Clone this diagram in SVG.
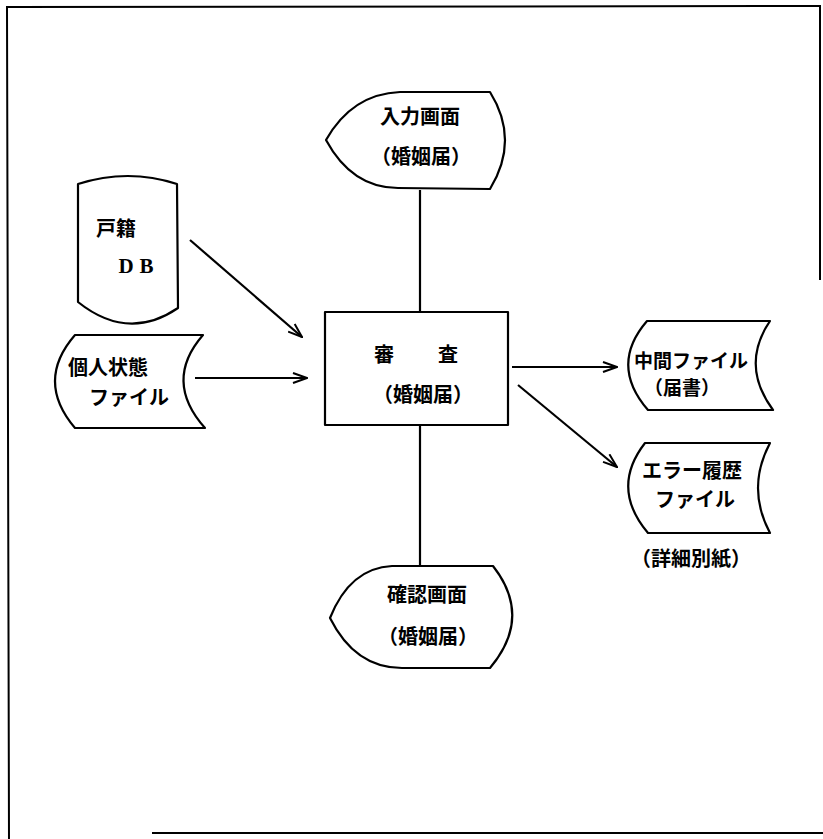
<svg xmlns="http://www.w3.org/2000/svg" width="823" height="839" viewBox="0 0 823 839">
<style>
.s{fill:#fff;stroke:#000;stroke-width:2.2;stroke-linejoin:round}
.c{stroke:#000;stroke-width:2.2;fill:none}
.b{stroke:#000;stroke-width:2;fill:none}
text{font-family:"Noto Sans CJK JP","Noto Sans",sans-serif;font-weight:700;font-size:20px;fill:#000;text-anchor:middle}
.sm{font-size:19px}
.lat{font-family:"Liberation Serif","Noto Sans CJK JP",serif;font-size:21px}
</style>
<defs>
<marker id="ah" viewBox="0 0 16 12" refX="15" refY="6" markerWidth="16" markerHeight="12" markerUnits="userSpaceOnUse" orient="auto">
<path d="M1,1 L15,6 L1,11" fill="none" stroke="#000" stroke-width="2"/>
</marker>
</defs>
<rect width="823" height="839" fill="#fff"/>
<g id="frame">
<path class="b" d="M9,839 L7,7 L820,6 L820,280"/>
<path class="b" d="M152,833 L823,833"/>
</g>
<g id="connectors">
<line class="c" x1="420" y1="190" x2="420" y2="312"/>
<line class="c" x1="420" y1="425" x2="420" y2="566"/>
<line class="c" x1="190" y1="240" x2="302" y2="337" marker-end="url(#ah)"/>
<line class="c" x1="195" y1="378" x2="307" y2="378" marker-end="url(#ah)"/>
<line class="c" x1="512" y1="367" x2="617" y2="367" marker-end="url(#ah)"/>
<line class="c" x1="518" y1="385" x2="617" y2="467" marker-end="url(#ah)"/>
</g>
<g id="input-screen">
<path class="s" d="M326,140 Q352,94 400,92 L490,92 Q520,140 490,189 L398,188 Q352,188 326,140 Z"/>
<text x="420" y="124">入力画面</text>
<text x="421" y="164">（婚姻届）</text>
</g>
<g id="koseki-db">
<path class="s" d="M78,184 Q128,168 177,184 L178,308 Q128,342 78,302 Z"/>
<text x="116" y="236">戸籍</text>
<text class="lat" x="139" y="273" letter-spacing="6">DB</text>
</g>
<g id="personal-file">
<path class="s" d="M75,335 L203,335 Q163,381 205,428 L75,428 Q35,381 75,335 Z"/>
<text x="108" y="375">個人状態</text>
<text x="129" y="405">ファイル</text>
</g>
<g id="review">
<rect class="s" x="325" y="312" width="183" height="113"/>
<text y="362"><tspan x="384">審</tspan><tspan x="448">査</tspan></text>
<text x="423" y="402">（婚姻届）</text>
</g>
<g id="intermediate-file">
<path class="s" d="M647,321 L770,321 Q740,365 773,410 L648,410 Q609,365 647,321 Z"/>
<text class="sm" x="691" y="368">中間ファイル</text>
<text class="sm" x="682" y="395">（届書）</text>
</g>
<g id="error-file">
<path class="s" d="M645,443 L770,443 Q746,488 770,533 L648,533 Q610,488 645,443 Z"/>
<text x="692" y="478">エラー履歴</text>
<text x="695" y="507">ファイル</text>
<text x="691" y="566">（詳細別紙）</text>
</g>
<g id="confirm-screen">
<path class="s" d="M330,618 Q350,568 392,566 L493,566 Q533,617 490,668 L402,668 Q355,668 330,618 Z"/>
<text x="427" y="602">確認画面</text>
<text x="428" y="644">（婚姻届）</text>
</g>
</svg>
